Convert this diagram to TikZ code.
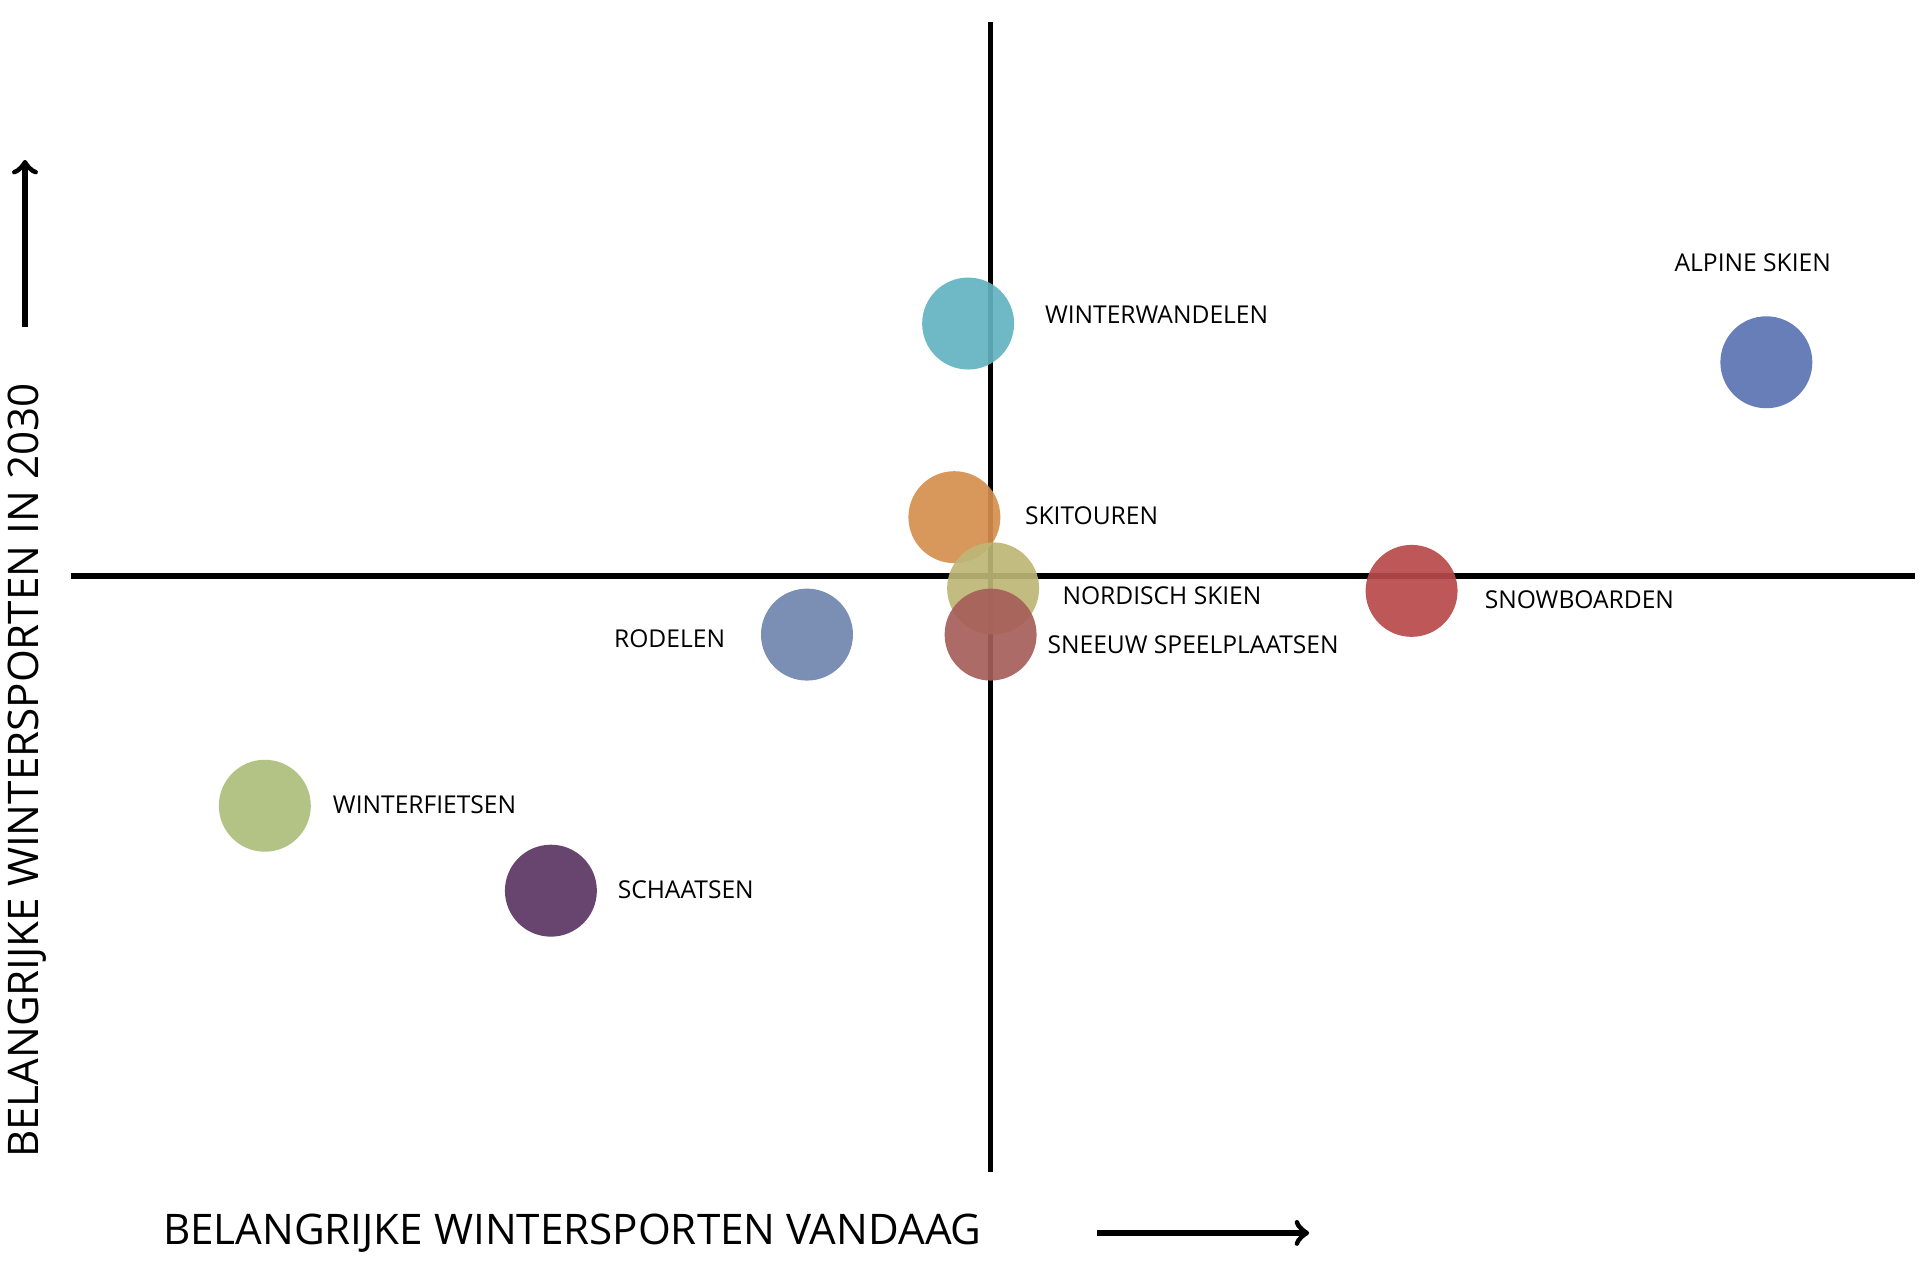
\documentclass[tikz,border=0pt]{standalone}
\usepackage{fontspec}
\setmainfont{Open Sans}
\usetikzlibrary{positioning}
\definecolor{cteal}{HTML}{62B3C0}
\definecolor{cblue}{HTML}{5B73B3}
\definecolor{corange}{HTML}{D58E4D}
\definecolor{ckhaki}{HTML}{BDB676}
\definecolor{cbrown}{HTML}{A65E5A}
\definecolor{cred}{HTML}{B84A4A}
\definecolor{cslate}{HTML}{7085AE}
\definecolor{cgreen}{HTML}{ADBE7C}
\definecolor{cpurple}{HTML}{5B3563}
\begin{document}
\begin{tikzpicture}[x=0.01249cm, y=-0.01249cm,
sport/.style={circle, fill=#1, opacity=0.92, minimum size=0.92cm, inner sep=0pt},
sportlabel/.style={font=\fontsize{7}{8}\selectfont, inner sep=0pt},
axis/.style={line width=1.6pt},
axislabel/.style={font=\fontsize{12}{14}\selectfont, inner sep=0pt}]
\useasboundingbox (0,0) rectangle (1545,1009);

\coordinate (vtop) at (793,18);
\coordinate (vbot) at (793,938);
\coordinate (hleft) at (57,461);
\coordinate (hright) at (1533,461);
\draw[axis] (vtop) -- (vbot);
\draw[axis] (hleft) -- (hright);

\node[sport=cteal] (wandel) at (775,259) {};
\node[sport=cblue] (alpine) at (1414,290) {};
\node[sport=corange] (tour) at (764,414) {};
\node[sport=ckhaki] (nordisch) at (795,471) {};
\node[sport=cbrown] (sneeuw) at (793,508) {};
\node[sport=cred] (board) at (1130,473) {};
\node[sport=cslate] (rodel) at (646,508) {};
\node[sport=cgreen] (fiets) at (212,645) {};
\node[sport=cpurple] (schaats) at (441,713) {};

\node[sportlabel, anchor=west] at (836,252) {WINTERWANDELEN};
\node[sportlabel, anchor=west] at (1340,210) {ALPINE SKIEN};
\node[sportlabel, anchor=west] at (820,413) {SKITOUREN};
\node[sportlabel, anchor=west] at (850,477) {NORDISCH SKIEN};
\node[sportlabel, anchor=west] at (838,516) {SNEEUW SPEELPLAATSEN};
\node[sportlabel, anchor=west] at (1188,480) {SNOWBOARDEN};
\node[sportlabel, anchor=east] at (581,511) {RODELEN};
\node[sportlabel, anchor=west] at (266,644) {WINTERFIETSEN};
\node[sportlabel, anchor=west] at (494,712) {SCHAATSEN};

\node[axislabel, rotate=90] (ylab) at (22,617) {BELANGRIJKE WINTERSPORTEN IN 2030};
\coordinate (ya) at (20,262);
\coordinate (yb) at (20,128);
\draw[axis, ->] (ya) -- (yb);

\node[axislabel, anchor=west] (xlab) at (130,987) {BELANGRIJKE WINTERSPORTEN VANDAAG};
\coordinate (xa) at (878,987);
\coordinate (xb) at (1048,987);
\draw[axis, ->] (xa) -- (xb);
\end{tikzpicture}
\end{document}
